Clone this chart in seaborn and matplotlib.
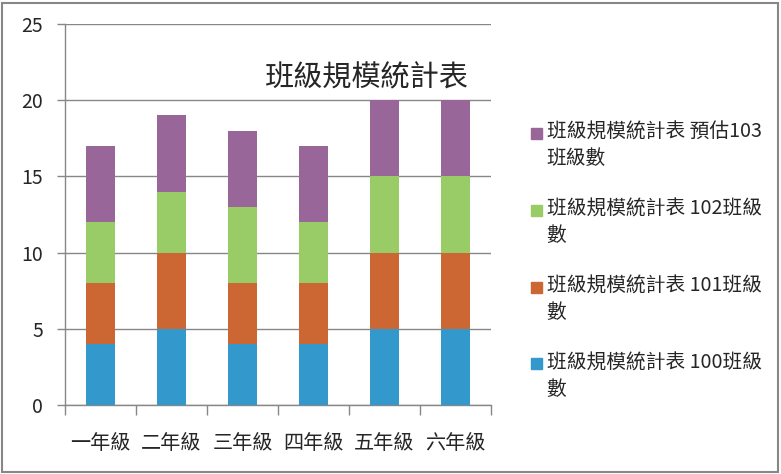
import matplotlib
matplotlib.use("Agg")
import matplotlib.pyplot as plt
from matplotlib.patches import Rectangle, Patch
from matplotlib.legend_handler import HandlerPatch
import numpy as np
import seaborn as sns

grades = ["一年級", "二年級", "三年級", "四年級", "五年級", "六年級"]
series_names = ["班級規模統計表 100班級\n數", "班級規模統計表 101班級\n數",
                "班級規模統計表 102班級\n數", "班級規模統計表 預估103\n班級數"]
classes_100 = [4, 5, 4, 4, 5, 5]
classes_101 = [4, 5, 4, 4, 5, 5]
classes_102 = [4, 4, 5, 4, 5, 5]
classes_103 = [5, 5, 5, 5, 5, 5]
colors = ["#3399CC", "#CC6633", "#99CC66", "#996699"]

sns.set_style("white")
plt.rcParams["font.family"] = ["Noto Sans CJK TC", "DejaVu Sans"]

fig = plt.figure(figsize=(7.81, 4.74), dpi=100)
ax = fig.add_axes([65 / 781, 69 / 474, 426 / 781, 381 / 474])

grey = "#878787"
bottom = np.zeros(len(grades))
for vals, col in zip([classes_100, classes_101, classes_102, classes_103], colors):
    sns.barplot(x=grades, y=vals, bottom=bottom, color=col, width=0.41,
                saturation=1, linewidth=0, ax=ax, zorder=3)
    bottom = bottom + np.array(vals)

ax.set_xlim(-0.5, 5.5)
ax.set_ylim(0, 25)
ax.set_yticks([0, 5, 10, 15, 20, 25])
ax.yaxis.grid(True, color=grey, linewidth=1)
ax.set_axisbelow(True)
for s in ["top", "right"]:
    ax.spines[s].set_visible(False)
for s in ["left", "bottom"]:
    ax.spines[s].set_color(grey)
    ax.spines[s].set_linewidth(1)
ax.tick_params(axis="y", length=6, color=grey, width=1, pad=10, labelsize=14, left=True)
ax.tick_params(axis="x", which="major", length=0, pad=20, labelsize=14.5)
ax.set_xticks(np.arange(-0.5, 6, 1), minor=True)
ax.tick_params(axis="x", which="minor", length=7, color=grey, width=1, bottom=True)
ax.set_xlabel("")
ax.set_ylabel("")

fig.text(265 / 781, 1 - 78 / 474, "班級規模統計表", fontsize=21, va="center", ha="left")


# square marker next to the first line of each two-line label
def top_square(legend, orig_handle, xdescent, ydescent, width, height, fontsize):
    side = 8
    return Rectangle((width - side, height / 2 - side / 2 + 10), side, side)


handles = [Patch(color=c) for c in colors][::-1]
labels = series_names[::-1]
leg = fig.legend(handles, labels, loc="upper left", bbox_to_anchor=(520 / 781, 1 - 112 / 474),
                 frameon=False, fontsize=14.2, handlelength=0.6, handleheight=0.6,
                 handletextpad=0.25, labelspacing=1.5, borderpad=0,
                 handler_map={Patch: HandlerPatch(patch_func=top_square)})
for t in leg.get_texts():
    t.set_linespacing(1.33)

fig.patches.append(Rectangle((2 / 781, 2 / 474), 776 / 781, 469 / 474, transform=fig.transFigure,
                             fill=False, edgecolor=grey, linewidth=1.5))

fig.savefig("out.png", dpi=100)
